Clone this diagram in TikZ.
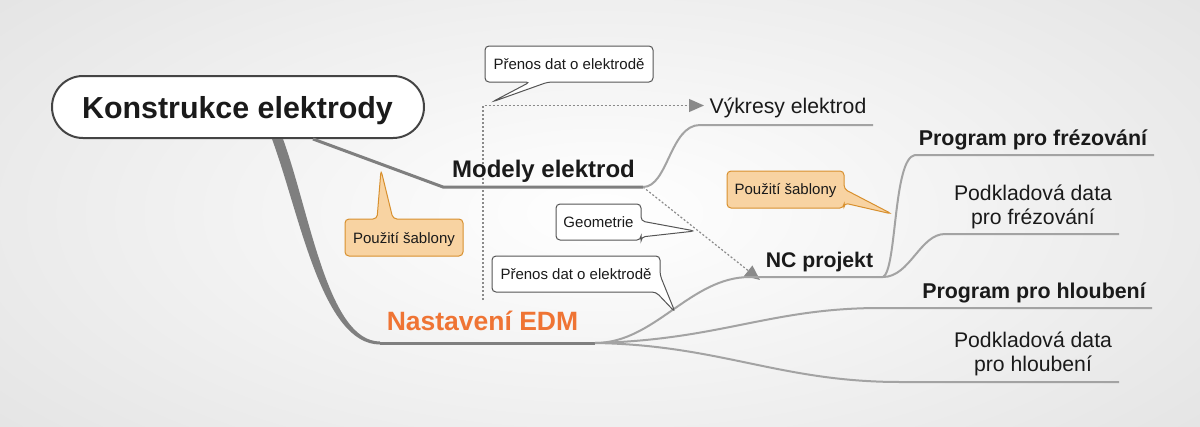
\documentclass[tikz,border=0pt]{standalone}
\usepackage{fontspec}
\setmainfont{Liberation Sans}
\usetikzlibrary{arrows.meta}
\definecolor{mainline}{HTML}{7F7F7F}
\definecolor{subline}{HTML}{A3A3A3}
\definecolor{obox}{HTML}{F8D3A2}
\definecolor{oborder}{HTML}{D8902E}
\definecolor{edmorange}{HTML}{EF7434}
\definecolor{txt}{HTML}{1A1A1A}
\definecolor{cborder}{HTML}{555555}
\definecolor{rootborder}{HTML}{444444}
\definecolor{dotcol}{HTML}{8A8A8A}
\begin{document}
\begin{tikzpicture}[x=1pt,y=-1pt,
  mainbr/.style={draw=mainline, line width=3pt},
  subbr/.style={draw=subline, line width=2pt},
  callw/.style={draw=cborder, fill=white, line width=1pt, rounded corners=4pt},
  callo/.style={draw=oborder, fill=obox, line width=1pt, rounded corners=4pt},
  ctext/.style={inner sep=0pt, anchor=base, font=\fontsize{15}{18}\selectfont, text=txt},
  bigb/.style={inner sep=0pt, anchor=base, font=\bfseries\fontsize{#1}{#1}\selectfont, text=txt},
  regt/.style={inner sep=0pt, anchor=base, font=\fontsize{21.2}{24}\selectfont, text=txt, align=center},
  dotline/.style={draw=dotcol, line width=1.2pt, dash pattern=on 2pt off 2pt},
  tip/.style={-{Triangle[length=15pt,width=13pt,fill=dotcol,sep=0pt]}}
]
\useasboundingbox (0,0) rectangle (1200,426);
\shade[inner color=white, outer color=black!10] (-150,-120) rectangle (1350,546);

% root
\node[draw=rootborder, line width=2pt, fill=white, rounded corners=31pt,
  minimum width=372pt, minimum height=62pt, inner sep=0pt] (root) at (238,107) {};
\node[bigb=30.4] (roott) at (237.5,118) {Konstrukce elektrody};

% coordinates of branches
\coordinate (rA) at (313,139);
\coordinate (mA) at (443,187);
\coordinate (mB) at (643,187);
\coordinate (vA) at (700,125);
\coordinate (vB) at (873,125);
\coordinate (eA) at (380,343);
\coordinate (eB) at (595,343);
\coordinate (nA) at (750,277);
\coordinate (nB) at (883,277);
\coordinate (pfA) at (915,155);
\coordinate (pfB) at (1154,155);
\coordinate (dfA) at (945,234);
\coordinate (dfB) at (1119,234);
\coordinate (phA) at (880,308);
\coordinate (phB) at (1152,308);
\coordinate (dhA) at (900,382);
\coordinate (dhB) at (1119,382);
\coordinate (dotS) at (483,300);
\coordinate (dotC) at (483,105.5);
\coordinate (dotE) at (704,105.5);
\coordinate (geoE) at (760,280);

% dotted relations
\draw[dotline, tip] (dotS) -- (dotC) -- (dotE);
\draw[dotline, tip] (mB) -- (geoE);

% main branches
\draw[mainbr] (rA) -- (mA) -- (mB);
\fill[mainline] (272,139) .. controls (300,215) and (322,344.5) .. (eA |- 0,344.5)
  -- (eA |- 0,341.5) .. controls (328,341.5) and (310,213) .. (283,139) -- cycle;
\draw[mainbr] (eA) -- (eB);

% sub branches
\draw[subbr] (mB) .. controls (668,187) and (670,125) .. (vA) -- (vB);
\draw[subbr] (eB) .. controls (655,343) and (690,277) .. (nA) -- (nB);
\draw[subbr] (eB) .. controls (720,340) and (770,308) .. (phA) -- (phB);
\draw[subbr] (eB) .. controls (720,345) and (780,382) .. (dhA) -- (dhB);
\draw[subbr] (nB) .. controls (897,270) and (893,158) .. (pfA) -- (pfB);
\draw[subbr] (nB) .. controls (910,277) and (920,234) .. (dfA) -- (dfB);

% callouts
\draw[callw] (485,46) -- (653,46) -- (653,82) -- (548,82) -- (492,102) -- (530,82) -- (485,82) -- cycle;
\node[ctext] (c1) at (569,69) {Přenos dat o elektrodě};

\draw[callw] (556,204) -- (641,204) -- (641,221) -- (695,231) -- (641,237) -- (641,240) -- (556,240) -- cycle;
\node[ctext] (c2) at (598.5,227) {Geometrie};

\draw[callw] (492,256) -- (660,256) -- (660,275) -- (675,312) -- (656,292) -- (492,292) -- cycle;
\node[ctext] (c3) at (576,279) {Přenos dat o elektrodě};

\draw[callo] (345,219) -- (377,219) -- (381,170) -- (393,219) -- (463,219) -- (463,256) -- (345,256) -- cycle;
\node[ctext] (c4) at (404,243) {Použití šablony};

\draw[callo] (727,171) -- (844,171) -- (844,189) -- (892,214) -- (844,203) -- (844,208) -- (727,208) -- cycle;
\node[ctext] (c5) at (785.5,194) {Použití šablony};

% texts
\node[bigb=24] (modely) at (543.5,177) {Modely elektrod};
\node[regt] (vykresy) at (788,113) {Výkresy elektrod};
\node[bigb=21.2] (nc) at (819.5,267) {NC projekt};
\node[bigb=21.4] (pf) at (1033,145) {Program pro frézování};
\node[regt] (df) at (1033,224) {Podkladová data\\pro frézování};
\node[bigb=21.4] (ph) at (1034,298) {Program pro hloubení};
\node[regt] (dh) at (1033,371) {Podkladová data\\pro hloubení};
\node[inner sep=0pt, anchor=base, font=\bfseries\fontsize{26.5}{28}\selectfont, text=edmorange] (edm) at (482.5,330) {Nastavení EDM};
\end{tikzpicture}
\end{document}
